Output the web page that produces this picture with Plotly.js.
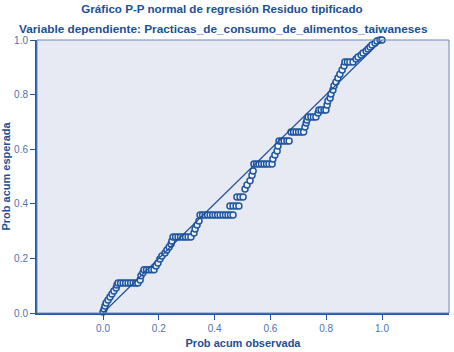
<!DOCTYPE html>
<html>
<head>
<meta charset="utf-8">
<script src="https://cdn.plot.ly/plotly-3.0.1.min.js"></script>
<style>html,body{margin:0;padding:0;background:#fff;}#chart{width:454px;height:352px;}</style>
</head>
<body>
<div id="chart"></div>
<script>
// Observed cumulative probability (x) and expected cumulative probability (y)
var observedProb = [
  0.000,0.004,0.007,0.011,0.018,0.025,0.032,0.039,0.047,0.050,
  0.054,0.063,0.072,0.081,0.090,0.099,0.108,0.117,0.125,
  0.133,0.136,0.143,
  0.147,0.156,0.165,0.174,0.183,
  0.190,0.197,0.204,0.211,0.222,0.229,0.237,0.244,0.247,
  0.251,0.260,0.269,0.278,0.287,0.296,0.305,0.315,
  0.326,0.330,0.337,0.344,
  0.348,0.357,0.366,0.375,0.384,0.393,0.402,0.411,0.420,0.430,0.439,0.448,0.457,0.466,
  0.455,0.466,0.477,0.487,
  0.480,0.491,0.502,
  0.509,0.516,0.527,0.534,0.538,
  0.541,0.550,0.559,0.568,0.577,0.586,0.595,0.606,
  0.609,0.616,0.624,0.627,
  0.631,0.640,0.649,0.659,0.667,
  0.674,0.683,0.692,0.701,0.710,0.719,
  0.724,0.728,0.731,
  0.735,0.745,0.754,0.763,
  0.771,
  0.774,0.782,0.792,0.799,
  0.803,0.806,0.814,0.817,0.824,0.828,0.835,0.842,0.849,0.857,0.864,
  0.867,0.876,0.885,0.896,
  0.907,0.914,0.925,0.932,0.943,0.950,0.957,0.964,0.975,0.982,0.993,1.000
];
var expectedProb = [
  0.004,0.015,0.026,0.037,0.048,0.059,0.070,0.081,0.092,0.103,
  0.110,0.110,0.110,0.110,0.110,0.110,0.110,0.110,0.110,
  0.121,0.136,0.147,
  0.158,0.158,0.158,0.158,0.158,
  0.172,0.183,0.198,0.209,0.220,0.231,0.242,0.253,0.264,
  0.278,0.278,0.278,0.278,0.278,0.278,0.278,0.278,
  0.293,0.308,0.322,0.337,
  0.359,0.359,0.359,0.359,0.359,0.359,0.359,0.359,0.359,0.359,0.359,0.359,0.359,0.359,
  0.392,0.392,0.392,0.392,
  0.425,0.425,0.425,
  0.454,0.469,0.484,0.505,0.520,
  0.546,0.546,0.546,0.546,0.546,0.546,0.546,0.546,
  0.564,0.579,0.593,0.612,
  0.630,0.630,0.630,0.630,0.630,
  0.663,0.663,0.663,0.663,0.663,0.663,
  0.681,0.696,0.707,
  0.718,0.718,0.718,0.718,
  0.733,
  0.744,0.744,0.744,0.744,
  0.762,0.777,0.788,0.802,0.817,0.832,0.846,0.861,0.875,0.890,0.905,
  0.919,0.919,0.919,0.919,
  0.930,0.938,0.945,0.952,0.960,0.967,0.974,0.982,0.989,0.996,1.000,1.000
];
var refLineX = [0, 1];
var refLineY = [0, 1];
var tickValues = [0, 0.2, 0.4, 0.6, 0.8, 1.0];
var tickLabels = ['0.0', '0.2', '0.4', '0.6', '0.8', '1.0'];

var dark = '#1f56a0';
var titleColor = '#1c4f93';
var tickColor = '#4f72b0';
var fontFam = 'Liberation Sans, Arial, sans-serif';

var traces = [
  {
    x: observedProb, y: expectedProb, type: 'scatter', mode: 'markers',
    marker: {symbol: 'circle', size: 6, color: 'rgba(255,255,255,0.85)', line: {color: dark, width: 1.5}},
    hoverinfo: 'skip', showlegend: false, cliponaxis: false
  },
  {
    x: refLineX, y: refLineY, type: 'scatter', mode: 'lines',
    line: {color: '#1c4f93', width: 1.2}, hoverinfo: 'skip', showlegend: false
  }
];

var layout = {
  width: 454, height: 352,
  margin: {l: 37, r: 5, t: 40, b: 39},
  paper_bgcolor: '#ffffff',
  plot_bgcolor: '#e7e9f3',
  font: {family: fontFam},
  title: {
    text: 'Gráfico P-P normal de regresión Residuo tipificado',
    font: {family: fontFam, size: 11.6, color: titleColor, weight: 'bold'},
    x: 222 / 454, xref: 'container', xanchor: 'center',
    y: 1 - 9 / 352, yref: 'container', yanchor: 'middle'
  },
  annotations: [{
    text: 'Variable dependiente: Practicas_de_consumo_de_alimentos_taiwaneses',
    xref: 'paper', yref: 'paper', x: (223 - 37) / 412, y: (313 - 29) / 273,
    xanchor: 'center', yanchor: 'middle', showarrow: false,
    font: {family: fontFam, size: 11.8, color: titleColor, weight: 'bold'}
  }],
  shapes: [{
    type: 'rect', xref: 'paper', yref: 'paper', x0: 0, y0: 0, x1: 1, y1: 1,
    line: {color: '#6a89c2', width: 1}, layer: 'above'
  }],
  xaxis: {
    range: [-0.2366, 1.2401],
    tickvals: tickValues, ticktext: tickLabels,
    ticks: 'outside', ticklen: 5, tickwidth: 1, tickcolor: dark,
    showline: true, linecolor: dark, linewidth: 2,
    showgrid: false, zeroline: false,
    tickfont: {family: fontFam, size: 10, color: tickColor},
    title: {text: 'Prob acum observada', standoff: 6,
      font: {family: fontFam, size: 11, color: titleColor, weight: 'bold'}}
  },
  yaxis: {
    range: [0, 1],
    tickvals: tickValues, ticktext: tickLabels,
    ticks: 'outside', ticklen: 5, tickwidth: 1, tickcolor: dark,
    showline: true, linecolor: dark, linewidth: 2,
    showgrid: false, zeroline: false,
    tickfont: {family: fontFam, size: 10, color: tickColor},
    title: {text: 'Prob acum esperada', standoff: 4,
      font: {family: fontFam, size: 11, color: titleColor, weight: 'bold'}}
  }
};

Plotly.newPlot('chart', traces, layout, {staticPlot: true, displayModeBar: false});
</script>
</body>
</html>
